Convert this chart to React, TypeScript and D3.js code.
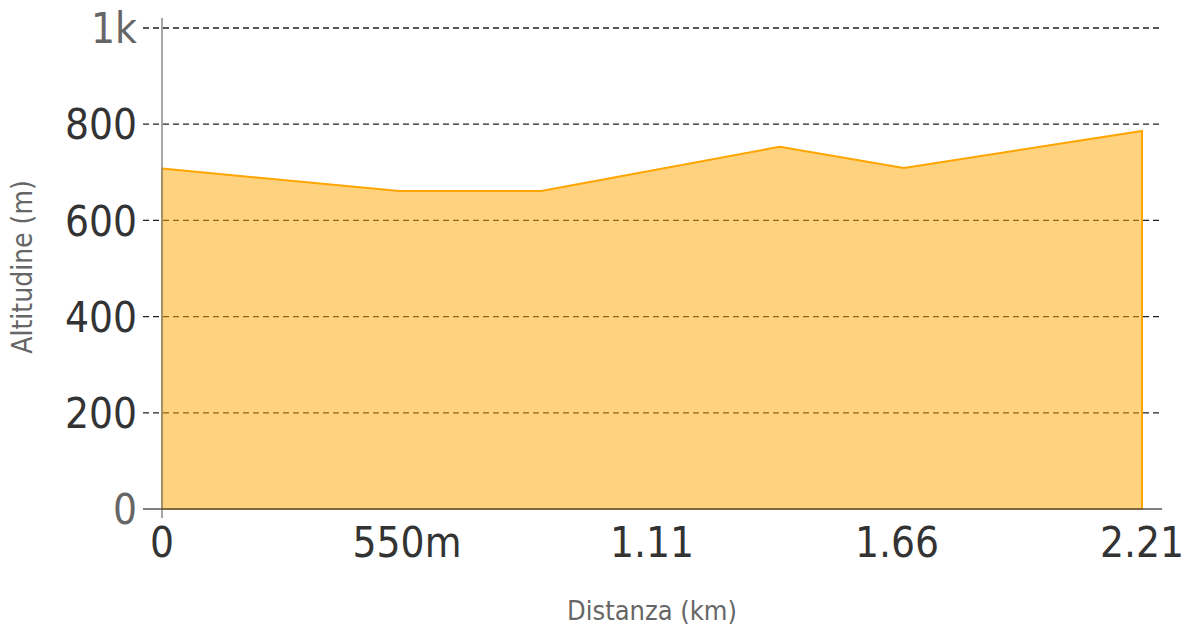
import React from "react";
import * as d3 from "d3";

const distKm = [0, 0.535, 0.855, 1.393, 1.673, 2.21];
const altitude = [708, 661, 661, 753, 709, 786];
const xTickValues = [0, 0.5525, 1.105, 1.6575, 2.21];
const xTickLabels = ["0", "550m", "1.11", "1.66", "2.21"];
const yTickValues = [0, 200, 400, 600, 800, 1000];
const yTickLabels = ["0", "200", "400", "600", "800", "1k"];

const W = 1189;
const H = 625;
const FONT = "'DejaVu Sans Condensed', 'DejaVu Sans', sans-serif";

export default function App() {
  const x = d3.scaleLinear().domain([0, 2.21]).range([162, 1142]);
  const y = d3.scaleLinear().domain([0, 1000]).range([509, 28]);
  const data = distKm.map((d, i) => ({ d, a: altitude[i] }));
  const area = d3
    .area<{ d: number; a: number }>()
    .x((p) => x(p.d))
    .y0(y(0))
    .y1((p) => y(p.a));
  const path = (area(data) || "") + "Z";

  return (
    <svg
      width={W}
      height={H}
      style={{ position: "absolute", left: 0, top: 0 }}
      fontFamily={FONT}
      fontStretch="condensed"
    >
      {yTickValues.map((v) =>
        v === 0 ? null : (
          <line
            key={"g" + v}
            x1={143}
            x2={1160}
            y1={y(v)}
            y2={y(v)}
            stroke="#222"
            strokeWidth={1.3}
            strokeDasharray="6,4"
          />
        )
      )}
      <path
        d={path}
        fill="orange"
        fillOpacity={0.5}
        stroke="orange"
        strokeWidth={2}
      />
      <line x1={162} x2={162} y1={18} y2={518} stroke="#888" strokeWidth={1.5} />
      <line x1={143} x2={1162} y1={509} y2={509} stroke="#555" strokeWidth={1.5} />
      {yTickValues.map((v, i) => (
        <text
          key={"yl" + v}
          x={137}
          y={y(v)}
          dy="0.36em"
          textAnchor="end"
          fontSize={42}
          fill={v === 0 || v === 1000 ? "#666" : "#333"}
        >
          {yTickLabels[i]}
        </text>
      ))}
      {xTickValues.map((v, i) => (
        <text
          key={"xl" + i}
          x={x(v)}
          y={557}
          textAnchor="middle"
          fontSize={42}
          fill="#333"
        >
          {xTickLabels[i]}
        </text>
      ))}
      <text x={652} y={620} textAnchor="middle" fontSize={27} fill="#666">
        Distanza (km)
      </text>
      <text
        transform="translate(32,267) rotate(-90)"
        textAnchor="middle"
        fontSize={28}
        fill="#666"
      >
        Altitudine (m)
      </text>
    </svg>
  );
}
